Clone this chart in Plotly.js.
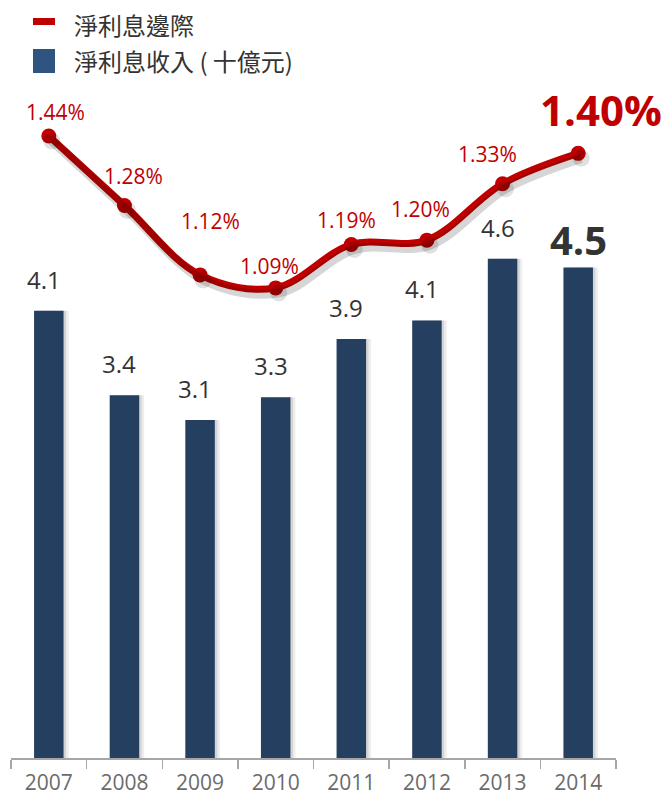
<!DOCTYPE html>
<html>
<head>
<meta charset="utf-8">
<script src="https://cdn.plot.ly/plotly-3.0.1.min.js"></script>
<style>
  html, body { margin: 0; padding: 0; background: #ffffff; }
  #chart { width: 665px; height: 797px; }
</style>
</head>
<body>
<div id="chart"></div>
<script>
// ---- data ----
const years = ['2007', '2008', '2009', '2010', '2011', '2012', '2013', '2014'];
const incomeValues = [4.13, 3.35, 3.12, 3.33, 3.87, 4.04, 4.61, 4.53];   // 淨利息收入 (十億元)
const incomeLabels = ['4.1', '3.4', '3.1', '3.3', '3.9', '4.1', '4.6', '4.5'];
const marginValues = [1.44, 1.28, 1.12, 1.09, 1.19, 1.20, 1.33, 1.40];   // 淨利息邊際 (%)
const marginLabels = ['1.44%', '1.28%', '1.12%', '1.09%', '1.19%', '1.20%', '1.33%', '1.40%'];
const legendNames = ['淨利息邊際', '淨利息收入 ( 十億元)'];

// ---- styling ----
const W = 665, H = 797;
const M = { l: 11, r: 49, t: 0, b: 39 };
const plotW = W - M.l - M.r;
const plotH = H - M.t - M.b;
const RED = '#c00000';
const NAVY = '#253f60';
const FONT = '"Open Sans", "Noto Sans CJK TC", sans-serif';
const CJK = '"Noto Sans CJK TC", "Noto Sans", sans-serif';
// per-label pixel offsets for the percentage labels
const pctShift = [[7, 24], [9, 29], [10, 54], [-6, 22], [-5, 25], [-6, 31], [-15, 30], [23, 44]];
const py = (p) => 1 - (p - M.t) / plotH;   // pixel y -> paper y
const px = (p) => (p - M.l) / plotW;

const barW = 0.39;
const unitPx = plotW / 8;             // px per category
const y1Range = [0, plotH / 108.3];
const y2Range = [1.44 - (plotH - 136) / 434, 1.44 + 136 / 434];
const y2PerPx = (y2Range[1] - y2Range[0]) / plotH;

const shadowBar1 = {
  type: 'bar', x: years, y: incomeValues, width: barW, offset: -barW / 2 + 5 / unitPx,
  marker: { color: 'rgba(0,0,0,0.07)' }, hoverinfo: 'skip', showlegend: false
};
const shadowBar2 = {
  type: 'bar', x: years, y: incomeValues, width: barW, offset: -barW / 2 + 2.5 / unitPx,
  marker: { color: 'rgba(0,0,0,0.10)' }, hoverinfo: 'skip', showlegend: false
};
const bars = {
  type: 'bar', x: years, y: incomeValues, width: barW, offset: -barW / 2,
  marker: { color: NAVY }, hoverinfo: 'skip', showlegend: false, cliponaxis: false
};
const lineShadow = {
  type: 'scatter', mode: 'lines+markers', x: years, y: marginValues, xaxis: 'x2', yaxis: 'y3',
  line: { color: 'rgba(0,0,0,0.16)', width: 9, shape: 'spline', smoothing: 1 },
  marker: { color: 'rgba(0,0,0,0.12)', size: 17 }, hoverinfo: 'skip', showlegend: false, cliponaxis: false
};
const line = {
  type: 'scatter', mode: 'lines+markers', x: years, y: marginValues, yaxis: 'y2',
  line: { color: RED, width: 7, shape: 'spline', smoothing: 1 },
  marker: { color: RED, size: 15 }, hoverinfo: 'skip', showlegend: false, cliponaxis: false
};

const annotations = [];
years.forEach((yr, i) => {
  const last = i === years.length - 1;
  annotations.push({
    x: i, y: incomeValues[i], xref: 'x', yref: 'y', text: incomeLabels[i],
    showarrow: false, xanchor: 'center', yanchor: 'bottom', yshift: last ? -2 : 13, xshift: last ? 0 : -5,
    font: { family: FONT, size: last ? 40 : 24, color: '#333333', weight: last ? 700 : 400 }
  });
  annotations.push({
    x: i, y: marginValues[i], xref: 'x', yref: 'y2', text: marginLabels[i],
    showarrow: false, xanchor: 'center', yanchor: 'middle',
    xshift: pctShift[i][0], yshift: pctShift[i][1],
    font: { family: FONT, size: last ? 42 : 21, color: RED, weight: last ? 700 : 400 }
  });
});
// legend texts
annotations.push({ xref: 'paper', yref: 'paper', x: px(72), y: py(24), xanchor: 'left', yanchor: 'middle',
  text: legendNames[0], showarrow: false, font: { family: CJK, size: 24, color: '#333333' } });
annotations.push({ xref: 'paper', yref: 'paper', x: px(72), y: py(61), xanchor: 'left', yanchor: 'middle',
  text: legendNames[1], showarrow: false, font: { family: CJK, size: 24, color: '#333333' } });

const shapes = [
  { type: 'rect', xref: 'paper', yref: 'paper', x0: px(33), x1: px(55), y0: py(18), y1: py(25),
    fillcolor: RED, line: { width: 0 } },
  { type: 'rect', xref: 'paper', yref: 'paper', x0: px(33), x1: px(55), y0: py(49), y1: py(73),
    fillcolor: '#2f5480', line: { width: 0 } }
];

const hiddenAxis = { showgrid: false, zeroline: false, showline: false, ticks: '',
  showticklabels: false, fixedrange: true };

const layout = {
  width: W, height: H, margin: M,
  paper_bgcolor: '#ffffff', plot_bgcolor: '#ffffff',
  showlegend: false, barmode: 'overlay',
  xaxis: {
    type: 'category', range: [-0.5, 7.5], tickson: 'boundaries',
    ticks: 'outside', ticklen: 9, tickwidth: 1.5, tickcolor: '#a6a6a6',
    showline: true, linecolor: '#a6a6a6', linewidth: 2, ticklabelstandoff: 5,
    showgrid: false, zeroline: false, fixedrange: true,
    tickfont: { family: FONT, size: 21, color: '#6b6b6b' }
  },
  xaxis2: Object.assign({ type: 'category', overlaying: 'x',
    range: [-0.5 - 3 / unitPx, 7.5 - 3 / unitPx] }, hiddenAxis),
  yaxis: Object.assign({ range: y1Range }, hiddenAxis),
  yaxis2: Object.assign({ overlaying: 'y', side: 'right', range: y2Range }, hiddenAxis),
  yaxis3: Object.assign({ overlaying: 'y', side: 'right',
    range: [y2Range[0] + 5 * y2PerPx, y2Range[1] + 5 * y2PerPx] }, hiddenAxis),
  annotations: annotations,
  shapes: shapes
};

Plotly.newPlot('chart', [shadowBar1, shadowBar2, bars, lineShadow, line], layout,
  { displayModeBar: false, staticPlot: true });
</script>
</body>
</html>
